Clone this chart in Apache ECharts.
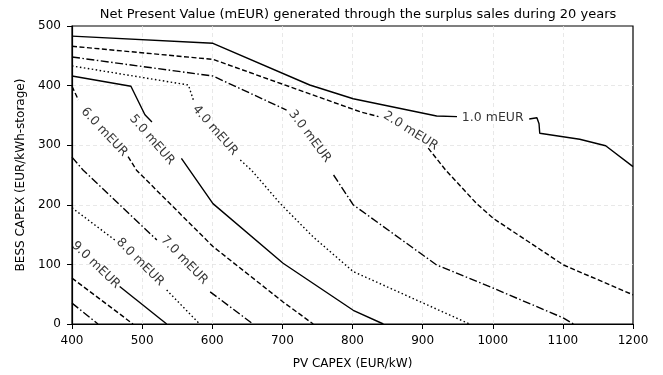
<!DOCTYPE html>
<html>
<head>
<meta charset="utf-8">
<script src="https://cdn.jsdelivr.net/npm/echarts@6/dist/echarts.min.js"></script>
<style>
  html, body { margin: 0; padding: 0; background: #fff; }
  #chart { width: 663px; height: 375px; }
</style>
</head>
<body>
<div id="chart"></div>
<script>
  // ticks
  var xTicks = [400, 500, 600, 700, 800, 900, 1000, 1100, 1200]
  var yTicks = [0, 100, 200, 300, 400, 500]

  // contour paths, one array of segments per level (gaps = label cuts)
  var npv1 = [
    [[400, 483], [601, 471], [739, 401], [801, 378], [920, 349], [949, 348]],
    [[1052, 344], [1063, 346], [1066, 336], [1067, 320], [1124, 310], [1161, 299], [1200, 264]]
  ]
  var npv2 = [
    [[400, 466], [601, 444], [811, 356], [837, 348]],
    [[908, 295], [933, 258], [977, 202], [1001, 177], [1101, 99], [1200, 49]]
  ]
  var npv3 = [
    [[400, 448], [601, 416], [706, 359]],
    [[773, 250], [801, 200], [920, 99], [1001, 60], [1101, 10], [1115, 0]]
  ]
  var npv4 = [
    [[400, 433], [566, 401], [573, 376]],
    [[640, 275], [656, 258], [697, 202], [744, 146], [801, 88], [901, 35], [967, 0]]
  ]
  var npv5 = [
    [[400, 416], [484, 399], [504, 351], [514, 339]],
    [[556, 278], [601, 202], [701, 102], [801, 23], [844, 0]]
  ]
  var npv6 = [
    [[400, 399], [409, 376]],
    [[480, 281], [492, 258], [601, 130], [701, 37], [744, 0]]
  ]
  var npv7 = [
    [[400, 280], [416, 258], [521, 141]],
    [[597, 54], [658, 0]]
  ]
  var npv8 = [
    [[400, 195], [461, 141]],
    [[535, 57], [582, 0]]
  ]
  var npv9 = [
    [[468, 63], [535, 0]]
  ]
  var npv10 = [
    [[400, 77], [487, 0]]
  ]
  var npv11 = [
    [[400, 35], [437, 0]]
  ]

  // inline labels: [x, y, text, angle]
  var contourLabels = [
    [1000, 346, '1.0 mEUR', 0],
    [883, 324, '2.0 mEUR', -32],
    [739, 315, '3.0 mEUR', -53],
    [604, 325, '4.0 mEUR', -49],
    [514, 309, '5.0 mEUR', -49],
    [446, 322, '6.0 mEUR', -47],
    [560, 107, '7.0 mEUR', -46],
    [497, 104, '8.0 mEUR', -45],
    [434, 99, '9.0 mEUR', -44]
  ]

  var dashStyles = {
    solid: 'solid',
    dashed: [5, 2.5],
    dashdot: [8, 2.5, 1.5, 2.5],
    dotted: [1.5, 2.5]
  }
  var styleCycle = ['solid', 'dashed', 'dashdot', 'dotted']

  var allLevels = [npv1, npv2, npv3, npv4, npv5, npv6, npv7, npv8, npv9, npv10, npv11]
  var series = []
  allLevels.forEach(function (segs, i) {
    segs.forEach(function (seg) {
      series.push({
        type: 'line',
        data: seg,
        symbol: 'none',
        silent: true,
        lineStyle: { color: '#000', width: 1.4, type: dashStyles[styleCycle[i % 4]] }
      })
    })
  })
  series.push({
    type: 'scatter',
    symbolSize: 1,
    itemStyle: { color: 'transparent' },
    silent: true,
    z: 5,
    data: contourLabels.map(function (l) {
      return {
        value: [l[0], l[1]],
        label: {
          show: true,
          position: 'inside',
          formatter: l[2],
          rotate: l[3],
          color: '#000',
          fontSize: 12.5,
          fontFamily: 'DejaVu Sans'
        }
      }
    })
  })

  var myChart = echarts.init(document.getElementById('chart'))
  var option = {
    animation: false,
    title: {
      text: 'Net Present Value (mEUR) generated through the surplus sales during 20 years',
      left: 353,
      top: 3,
      textAlign: 'center',
      textStyle: { fontFamily: 'DejaVu Sans', fontSize: 13, fontWeight: 'normal', color: '#000' }
    },
    grid: {
      left: 72, right: 30, top: 26, bottom: 51,
      show: true, borderColor: '#000', borderWidth: 1.2, backgroundColor: 'transparent'
    },
    xAxis: {
      type: 'value',
      min: xTicks[0],
      max: xTicks[xTicks.length - 1],
      interval: 100,
      name: 'PV CAPEX (EUR/kW)',
      nameLocation: 'middle',
      nameGap: 34,
      nameTextStyle: { fontFamily: 'DejaVu Sans', fontSize: 12, color: '#000' },
      axisLine: { lineStyle: { color: '#000', width: 1.2 } },
      axisTick: { length: 5, lineStyle: { color: '#000' } },
      axisLabel: {
        fontFamily: 'DejaVu Sans', fontSize: 12, color: '#000', margin: 11,
        formatter: function (v) { return String(v) }
      },
      splitLine: { show: true, showMinLine: false, showMaxLine: false, lineStyle: { color: '#e2e2e2', type: [4, 3], width: 0.8 } }
    },
    yAxis: {
      type: 'value',
      min: yTicks[0],
      max: yTicks[yTicks.length - 1],
      interval: 100,
      name: 'BESS CAPEX (EUR/kWh-storage)',
      nameLocation: 'middle',
      nameGap: 45,
      nameTextStyle: { fontFamily: 'DejaVu Sans', fontSize: 12, color: '#000' },
      axisLine: { show: true, lineStyle: { color: '#000', width: 1.2 } },
      axisTick: { show: true, length: 5, lineStyle: { color: '#000' } },
      axisLabel: { fontFamily: 'DejaVu Sans', fontSize: 12, color: '#000', margin: 11 },
      splitLine: { show: true, showMinLine: false, showMaxLine: false, lineStyle: { color: '#e2e2e2', type: [4, 3], width: 0.8 } }
    },
    series: series
  }
  myChart.setOption(option)
</script>
</body>
</html>
